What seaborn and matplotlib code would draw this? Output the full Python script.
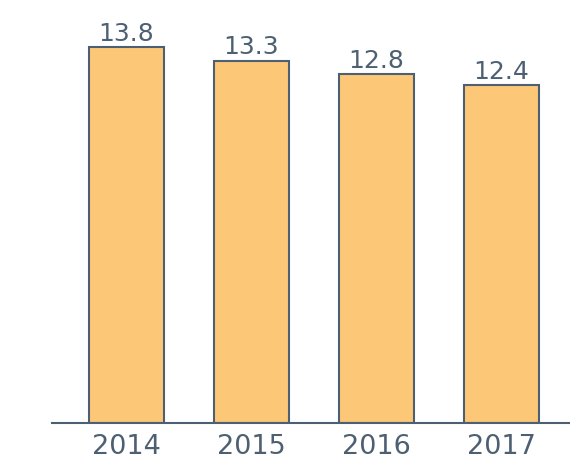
import matplotlib
matplotlib.use('Agg')
import matplotlib.pyplot as plt
import seaborn as sns
import pandas as pd

years = ['2014', '2015', '2016', '2017']
values = [13.8, 13.3, 12.8, 12.4]

df = pd.DataFrame({'year': years, 'value': values})

sns.set_theme(style='white')
plt.rcParams['font.family'] = ['DejaVu Sans']

slate = '#4d6073'
fill = '#fdc778'

fig = plt.figure(figsize=(5.70, 4.59), dpi=100)
ax = fig.add_axes([52 / 570, 36 / 459, 518 / 570, 423 / 459])

sns.barplot(data=df, x='year', y='value', color=fill, width=0.6,
            edgecolor=slate, linewidth=1.5, saturation=1, ax=ax)

for i, v in enumerate(values):
    ax.text(i, v + 0.05, f'{v}', ha='center', va='bottom', fontsize=18, color=slate)

ax.set_xlim(-0.596, 3.548)
ax.set_ylim(0, 15.52)
ax.set_xlabel('')
ax.set_ylabel('')
ax.set_yticks([])
ax.tick_params(axis='x', length=0, labelsize=19.5, labelcolor=slate, pad=8)
for s in ['top', 'right', 'left']:
    ax.spines[s].set_visible(False)
ax.spines['bottom'].set_color(slate)
ax.spines['bottom'].set_linewidth(1.5)

fig.savefig('out.png', dpi=100)
